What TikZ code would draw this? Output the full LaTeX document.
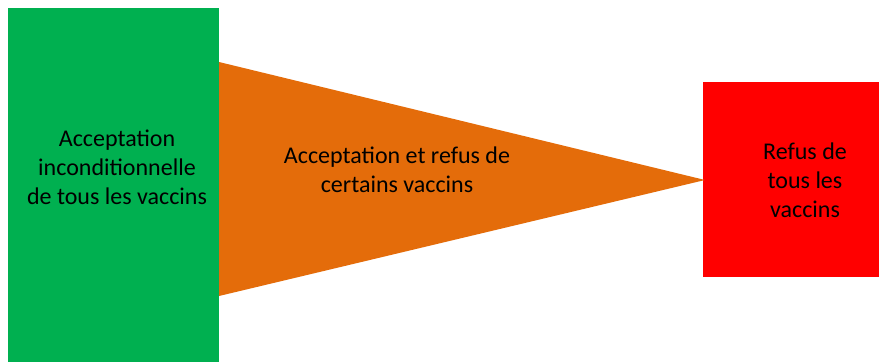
\documentclass[tikz,border=0pt]{standalone}
\usepackage{fontspec}
\setmainfont{Carlito}
\definecolor{vgreen}{HTML}{00B050}
\definecolor{vorange}{HTML}{E46C0A}
\definecolor{vred}{HTML}{FF0000}
\begin{document}
\begin{tikzpicture}[x=1pt,y=-1pt,
  block/.style={draw=none,inner sep=0pt,outer sep=0pt,anchor=north west},
  lbl/.style={inner sep=0pt,align=center,text=black,font=\fontsize{24}{29}\selectfont}]
\useasboundingbox (0,0) rectangle (879,362);
\fill[white] (0,0) rectangle (879,362);
\node[block,fill=vgreen,minimum width=211pt,minimum height=354pt] (accept) at (8,8) {};
\node[block,fill=vred,minimum width=176pt,minimum height=195pt] (refuse) at (703,82) {};
\coordinate (tA) at (219,62);
\coordinate (tB) at (219,296);
\coordinate (tC) at (705,180);
\fill[vorange] (tA) -- (tC) -- (tB) -- cycle;
\node[lbl] (t1) at (117,167) {Acceptation\\inconditionnelle\\de tous les vaccins};
\node[lbl] (t2) at (397,170) {Acceptation et refus de\\certains vaccins};
\node[lbl] (t3) at (805,180) {Refus de\\tous les\\vaccins};
\end{tikzpicture}
\end{document}
